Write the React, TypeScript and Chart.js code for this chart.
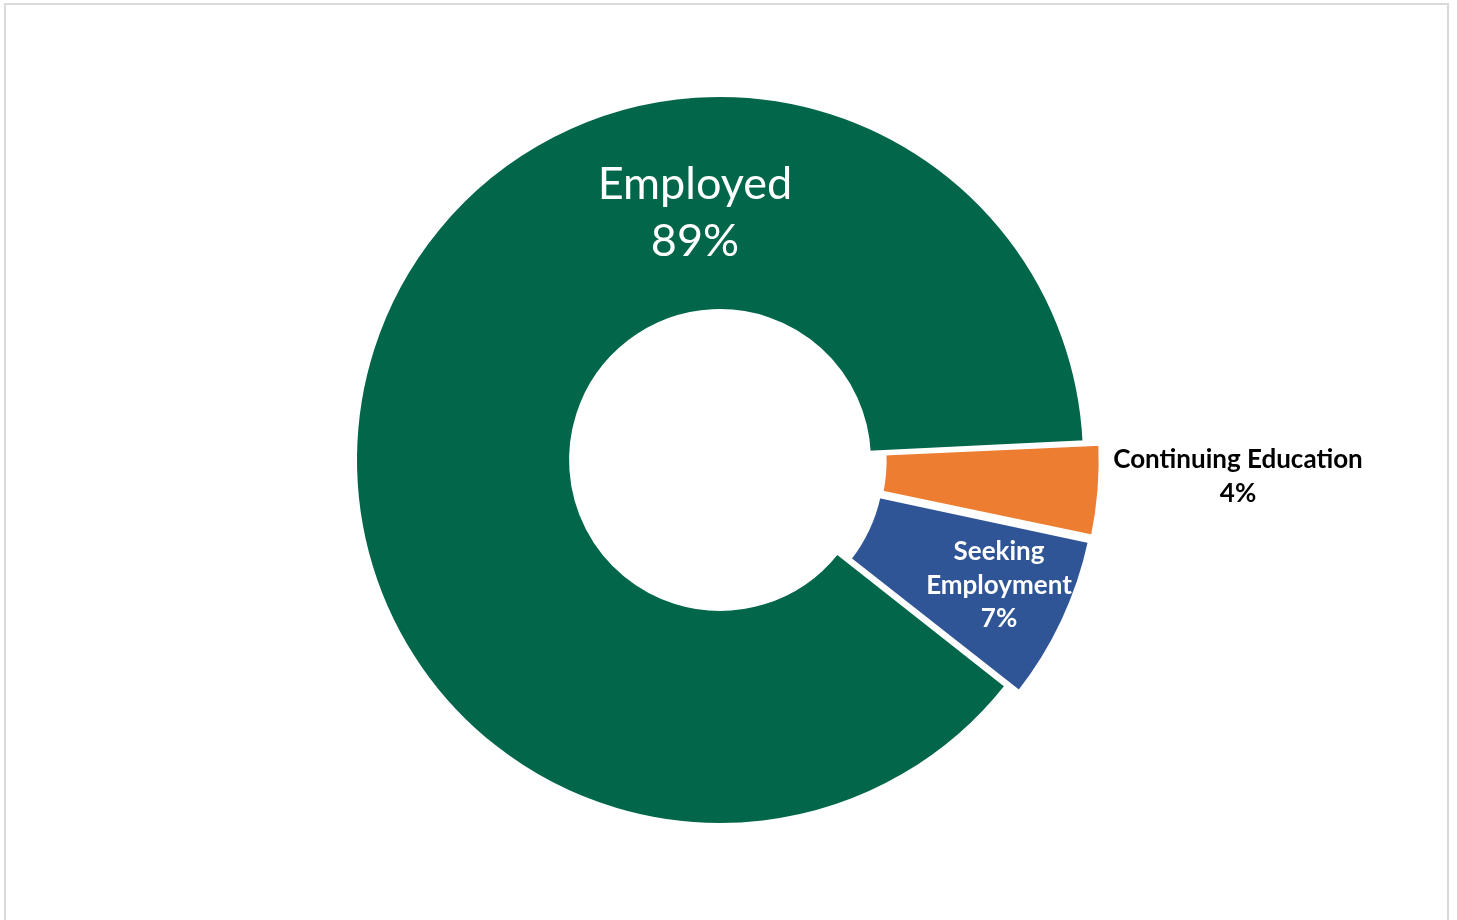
import React, { useEffect, useRef } from "react";
import { Chart, registerables } from "chart.js";

Chart.register(...registerables);

// ---- data ----
const categories = ["Continuing Education", "Seeking Employment", "Employed"];
const shares = [4.1, 7.3, 88.6];
const sliceColors = ["#ED7D31", "#2F5597", "#02664A"];
const explode = [36, 36, 0];

// label styling (positions relative to the doughnut centre)
const labelStyles = [
  { dx: 518, dy: 8, lh: 34, font: "bold 26px Lato", color: "#000000", wrap: false },
  { dx: 279, dy: 100, lh: 33.5, font: "bold 26px Lato", color: "#FFFFFF", wrap: true },
  { dx: -25, dy: -261, lh: 57, font: "45px Lato", color: "#FFFFFF", wrap: false },
];

const labelPlugin = {
  id: "sliceLabels",
  afterDatasetsDraw(chart: any) {
    const meta = chart.getDatasetMeta(0);
    const ctx = chart.ctx;
    meta.data.forEach((arc: any, i: number) => {
      const st = labelStyles[i];
      const lines = st.wrap ? categories[i].split(" ") : [categories[i]];
      lines.push(Math.round(shares[i]) + "%");
      ctx.save();
      ctx.font = st.font;
      ctx.fillStyle = st.color;
      ctx.textAlign = "center";
      ctx.textBaseline = "alphabetic";
      lines.forEach((ln: string, k: number) => {
        ctx.fillText(ln, arc.x + st.dx, arc.y + st.dy + k * st.lh);
      });
      ctx.restore();
    });
  },
};

export default function App() {
  const canvasRef = useRef<HTMLCanvasElement | null>(null);

  useEffect(() => {
    if (!canvasRef.current) return;
    const chart = new Chart(canvasRef.current, {
      type: "doughnut",
      data: {
        labels: categories,
        datasets: [
          {
            data: shares,
            backgroundColor: sliceColors,
            borderColor: "#FFFFFF",
            borderWidth: 4,
            offset: explode,
          } as any,
        ],
      },
      options: {
        responsive: false,
        animation: false,
        rotation: 87.2,
        radius: 365,
        cutout: "40.8%",
        layout: { padding: { left: 0, right: 17, top: 0, bottom: 0 } },
        plugins: {
          legend: { display: false },
          tooltip: { enabled: false },
        },
      } as any,
      plugins: [labelPlugin],
    });
    return () => chart.destroy();
  }, []);

  return (
    <div
      style={{
        position: "fixed",
        left: 0,
        top: 0,
        width: 1457,
        height: 920,
        overflow: "hidden",
        background: "#FFFFFF",
      }}
    >
      <div
        style={{
          position: "absolute",
          left: 4,
          top: 3,
          width: 1441,
          height: 1000,
          border: "2px solid #D9D9D9",
        }}
      />
      <canvas
        ref={canvasRef}
        width={1457}
        height={920}
        style={{ position: "absolute", left: 0, top: 0, width: 1457, height: 920 }}
      />
    </div>
  );
}
